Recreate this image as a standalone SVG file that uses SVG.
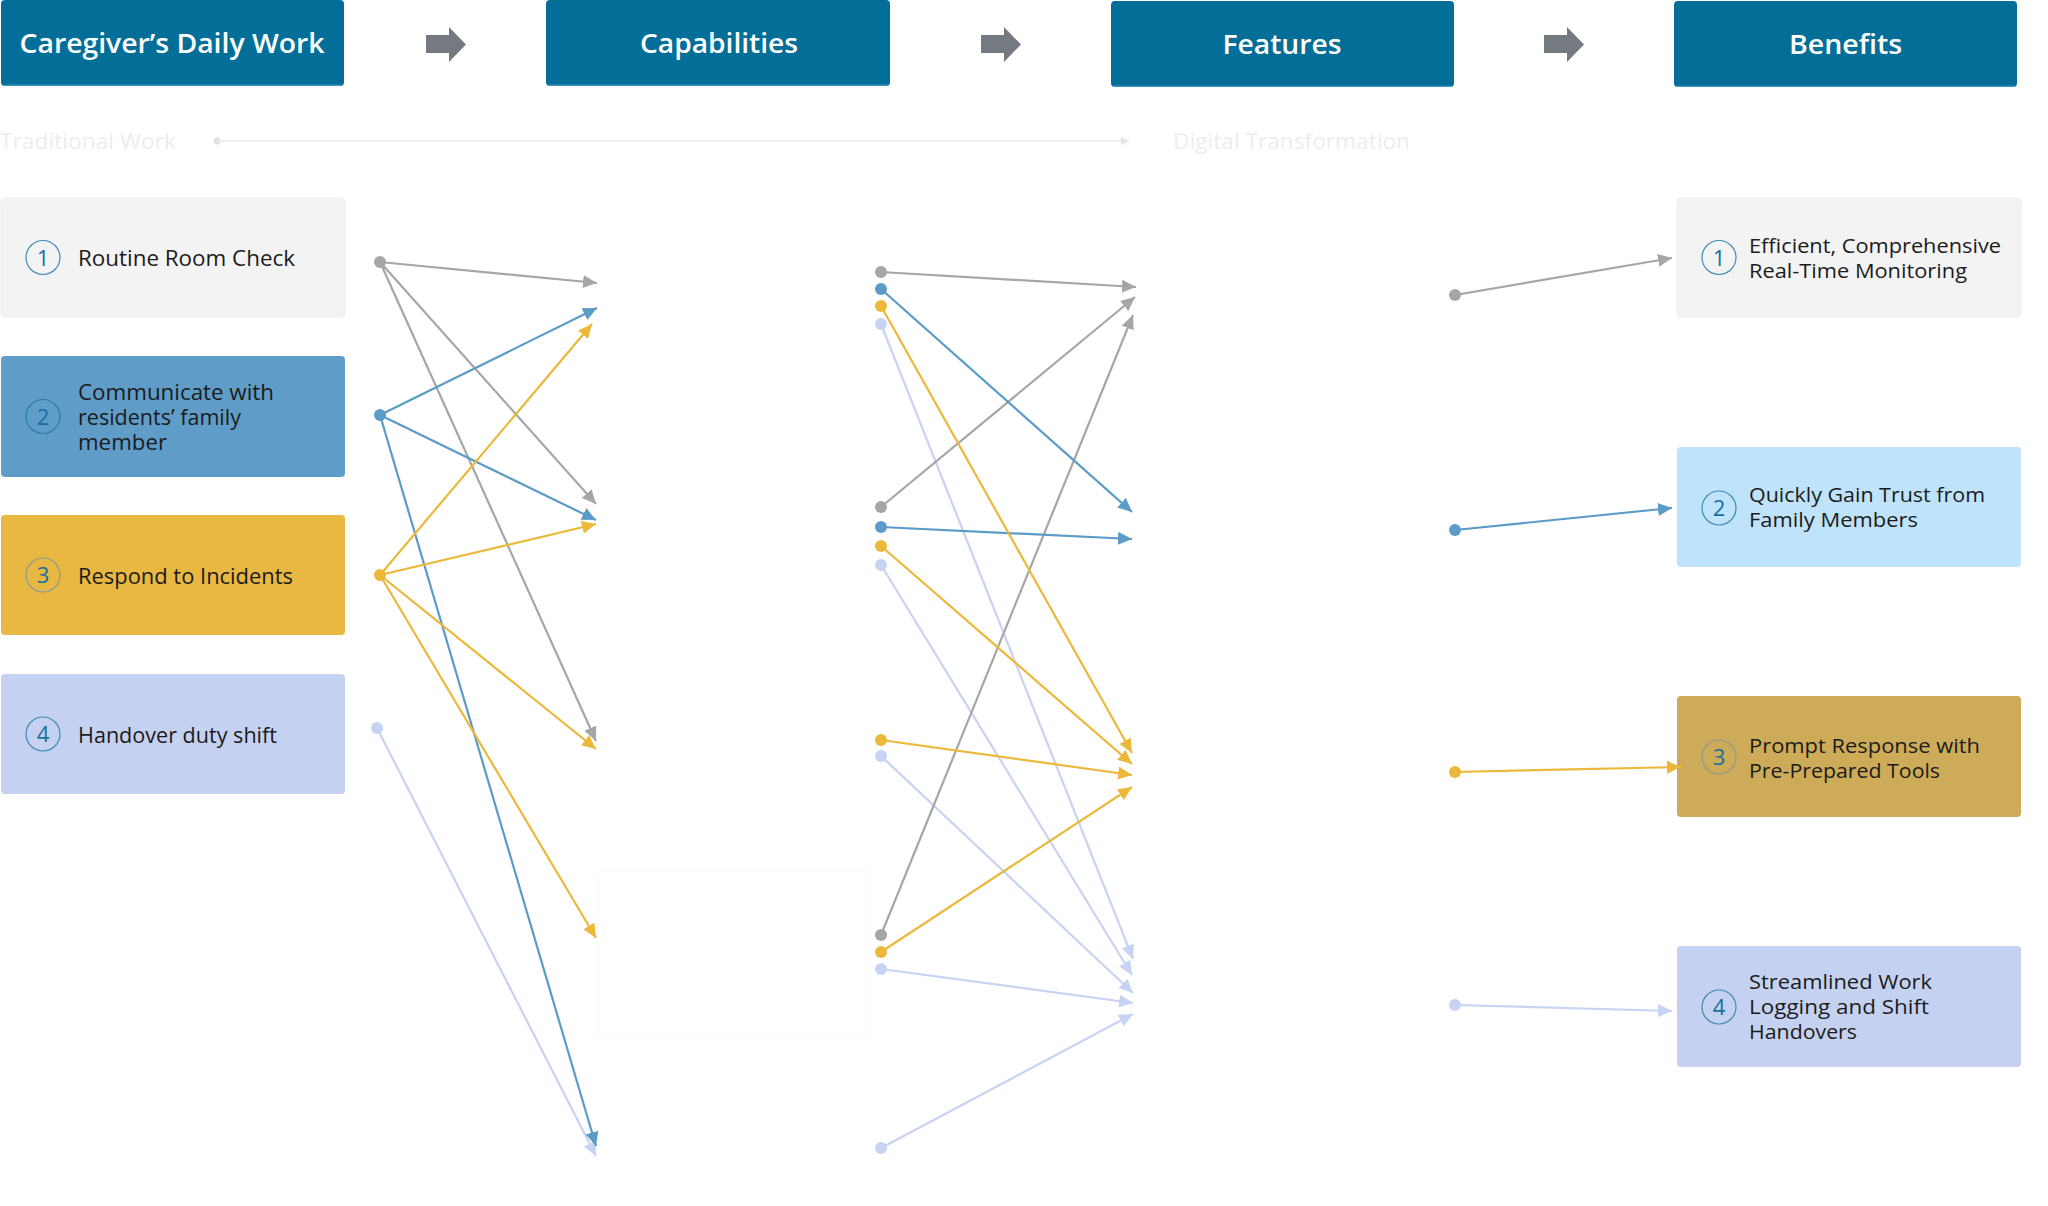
<svg xmlns="http://www.w3.org/2000/svg" width="2048" height="1206" viewBox="0 0 2048 1206">
<defs>
<style>
.hdr{fill:#036f99}
.hdrline{fill:#3a93c0}
.hdrtxt{font-family:"Open Sans","Liberation Sans",sans-serif;font-weight:600;font-size:27px;fill:#ffffff;text-anchor:middle}
.blk{fill:#747a80}
.txt{font-family:"Open Sans","Liberation Sans",sans-serif;font-size:21px;fill:#1b1b1b}
.btxt{font-family:"Open Sans","Liberation Sans",sans-serif;font-size:19.5px;fill:#1b1b1b}
.num{font-family:"Open Sans","Liberation Sans",sans-serif;font-weight:400;font-size:22px;fill:#17709f;text-anchor:middle}
.ring{fill:none;stroke:#3f8bb5;stroke-width:1.2}
.faint{font-family:"Open Sans","Liberation Sans",sans-serif;font-size:21px;fill:#ededed}
.c-g{stroke:#a6a6a6;stroke-width:2.2;fill:none;marker-end:url(#ah-g)}
.c-b{stroke:#5b9bc8;stroke-width:2.2;fill:none;marker-end:url(#ah-b)}
.c-y{stroke:#ecb83a;stroke-width:2.2;fill:none;marker-end:url(#ah-y)}
.c-l{stroke:#c6d3f3;stroke-width:2.2;fill:none;marker-end:url(#ah-l)}
.d-g{fill:#a6a6a6}.d-b{fill:#5b9bc8}.d-y{fill:#ecb83a}.d-l{fill:#c6d3f3}
</style>
<marker id="ah-g" markerUnits="userSpaceOnUse" markerWidth="15" markerHeight="13" refX="14" refY="6.5" orient="auto"><path d="M0,0 L14,6.5 L0,13 z" fill="#a6a6a6"/></marker>
<marker id="ah-b" markerUnits="userSpaceOnUse" markerWidth="15" markerHeight="13" refX="14" refY="6.5" orient="auto"><path d="M0,0 L14,6.5 L0,13 z" fill="#5b9bc8"/></marker>
<marker id="ah-y" markerUnits="userSpaceOnUse" markerWidth="15" markerHeight="13" refX="14" refY="6.5" orient="auto"><path d="M0,0 L14,6.5 L0,13 z" fill="#ecb83a"/></marker>
<marker id="ah-l" markerUnits="userSpaceOnUse" markerWidth="15" markerHeight="13" refX="14" refY="6.5" orient="auto"><path d="M0,0 L14,6.5 L0,13 z" fill="#c6d3f3"/></marker>
<marker id="ah-f" markerUnits="userSpaceOnUse" markerWidth="9" markerHeight="8" refX="8" refY="4" orient="auto"><path d="M0,0 L8,4 L0,8 z" fill="#e6e6e6"/></marker>
</defs>
<rect width="2048" height="1206" fill="#ffffff"/>

<g id="header-work"><rect class="hdr" x="1" y="0" width="343" height="86" rx="4"/><rect class="hdrline" x="3" y="84.5" width="339" height="1.5"/><text class="hdrtxt" x="172" y="53" textLength="305" lengthAdjust="spacingAndGlyphs">Caregiver’s Daily Work</text></g>
<g id="header-capabilities"><rect class="hdr" x="546" y="0" width="344" height="86" rx="4"/><rect class="hdrline" x="548" y="84.5" width="340" height="1.5"/><text class="hdrtxt" x="719" y="53" textLength="158" lengthAdjust="spacingAndGlyphs">Capabilities</text></g>
<g id="header-features"><rect class="hdr" x="1111" y="1" width="343" height="86" rx="4"/><rect class="hdrline" x="1113" y="85.5" width="339" height="1.5"/><text class="hdrtxt" x="1282" y="54" textLength="119" lengthAdjust="spacingAndGlyphs">Features</text></g>
<g id="header-benefits"><rect class="hdr" x="1674" y="1" width="343" height="86" rx="4"/><rect class="hdrline" x="1676" y="85.5" width="339" height="1.5"/><text class="hdrtxt" x="1845.5" y="54" textLength="113" lengthAdjust="spacingAndGlyphs">Benefits</text></g>

<g id="flow-arrows">
<polygon class="blk" points="426,35 449,35 449,27 466,44.5 449,62 449,53 426,53"/>
<polygon class="blk" points="981,35 1004,35 1004,27 1021,44.5 1004,62 1004,53 981,53"/>
<polygon class="blk" points="1544,35 1567,35 1567,27 1584,44.5 1567,62 1567,53 1544,53"/>
</g>

<g id="timeline">
<text class="faint" x="0" y="148.5" textLength="176" lengthAdjust="spacingAndGlyphs">Traditional Work</text>
<circle cx="217" cy="141" r="3.5" fill="#e0e0e0"/>
<line x1="217" y1="141" x2="1129" y2="141" stroke="#efefef" stroke-width="2" marker-end="url(#ah-f)"/>
<text class="faint" x="1173" y="148.5" textLength="237" lengthAdjust="spacingAndGlyphs">Digital Transformation</text>
</g>

<g id="work-1"><rect x="1" y="198" width="344" height="119" rx="4" fill="#f3f3f3" stroke="#ededed"/><circle class="ring" cx="43" cy="257.5" r="17"/><text class="num" x="43" y="265.5">1</text><text class="txt" x="78" y="266" textLength="217" lengthAdjust="spacingAndGlyphs">Routine Room Check</text></g>
<g id="work-2"><rect x="1" y="356" width="344" height="121" rx="4" fill="#5f9dc8"/><circle class="ring" cx="43" cy="416.5" r="17" style="stroke:#2f7aa6"/><text class="num" x="43" y="424.5">2</text><text class="txt" x="78" y="400" textLength="196" lengthAdjust="spacingAndGlyphs">Communicate with</text><text class="txt" x="78" y="425" textLength="163" lengthAdjust="spacingAndGlyphs">residents’ family</text><text class="txt" x="78" y="450" textLength="89" lengthAdjust="spacingAndGlyphs">member</text></g>
<g id="work-3"><rect x="1" y="515" width="344" height="120" rx="4" fill="#e8b843"/><circle class="ring" cx="43" cy="575" r="17" style="stroke:#8c9a96"/><text class="num" x="43" y="583">3</text><text class="txt" x="78" y="583.5" textLength="215" lengthAdjust="spacingAndGlyphs">Respond to Incidents</text></g>
<g id="work-4"><rect x="1" y="674" width="344" height="120" rx="4" fill="#c5d1f0"/><circle class="ring" cx="43" cy="734" r="17"/><text class="num" x="43" y="742">4</text><text class="txt" x="78" y="742.5" textLength="199" lengthAdjust="spacingAndGlyphs">Handover duty shift</text></g>

<g id="capability-placeholder"><rect x="598" y="871" width="272" height="168" rx="4" fill="none" stroke="#f3f3f3" stroke-dasharray="2 2"/></g>

<g id="benefit-1"><rect x="1677" y="198" width="344" height="119" rx="4" fill="#f3f3f3" stroke="#ededed"/><circle class="ring" cx="1719" cy="257.5" r="17"/><text class="num" x="1719" y="265.5">1</text><text class="btxt" x="1749" y="252.5" textLength="252" lengthAdjust="spacingAndGlyphs">Efficient, Comprehensive</text><text class="btxt" x="1749" y="277.5" textLength="218" lengthAdjust="spacingAndGlyphs">Real-Time Monitoring</text></g>
<g id="benefit-2"><rect x="1677" y="447" width="344" height="120" rx="4" fill="#bee3fb"/><circle class="ring" cx="1719" cy="508" r="17"/><text class="num" x="1719" y="516">2</text><text class="btxt" x="1749" y="502" textLength="236" lengthAdjust="spacingAndGlyphs">Quickly Gain Trust from</text><text class="btxt" x="1749" y="527" textLength="169" lengthAdjust="spacingAndGlyphs">Family Members</text></g>
<g id="benefit-3"><rect x="1677" y="696" width="344" height="121" rx="4" fill="#cdab58"/><circle class="ring" cx="1719" cy="757" r="17" style="stroke:#8c9a96"/><text class="num" x="1719" y="765">3</text><text class="btxt" x="1749" y="752.5" textLength="231" lengthAdjust="spacingAndGlyphs">Prompt Response with</text><text class="btxt" x="1749" y="777.5" textLength="191" lengthAdjust="spacingAndGlyphs">Pre-Prepared Tools</text></g>
<g id="benefit-4"><rect x="1677" y="946" width="344" height="121" rx="4" fill="#c5d1f0"/><circle class="ring" cx="1719" cy="1007" r="17"/><text class="num" x="1719" y="1015">4</text><text class="btxt" x="1749" y="989" textLength="183" lengthAdjust="spacingAndGlyphs">Streamlined Work</text><text class="btxt" x="1749" y="1014" textLength="180" lengthAdjust="spacingAndGlyphs">Logging and Shift</text><text class="btxt" x="1749" y="1039" textLength="108" lengthAdjust="spacingAndGlyphs">Handovers</text></g>

<g id="connectors">
<line class="c-l" x1="377" y1="728" x2="596" y2="1156"/>
<line class="c-g" x1="380" y1="262" x2="597" y2="283"/>
<line class="c-g" x1="380" y1="262" x2="596" y2="504"/>
<line class="c-g" x1="380" y1="262" x2="596" y2="741"/>
<line class="c-b" x1="380" y1="415" x2="597" y2="308"/>
<line class="c-b" x1="380" y1="415" x2="596" y2="520"/>
<line class="c-b" x1="380" y1="415" x2="596" y2="1146"/>
<line class="c-y" x1="380" y1="575" x2="592" y2="324"/>
<line class="c-y" x1="380" y1="575" x2="596" y2="524"/>
<line class="c-y" x1="380" y1="575" x2="596" y2="749"/>
<line class="c-y" x1="380" y1="575" x2="596" y2="938"/>

<line class="c-l" x1="881" y1="324" x2="1133" y2="959"/>
<line class="c-l" x1="881" y1="565" x2="1132" y2="975"/>
<line class="c-l" x1="881" y1="756" x2="1133" y2="993"/>
<line class="c-l" x1="881" y1="969" x2="1133" y2="1003"/>
<line class="c-l" x1="881" y1="1148" x2="1133" y2="1014"/>
<line class="c-g" x1="881" y1="272" x2="1136" y2="287"/>
<line class="c-g" x1="881" y1="507" x2="1135" y2="297"/>
<line class="c-g" x1="881" y1="935" x2="1133" y2="315"/>
<line class="c-b" x1="881" y1="289" x2="1132" y2="512"/>
<line class="c-b" x1="881" y1="527" x2="1132" y2="539"/>
<line class="c-y" x1="881" y1="306" x2="1132" y2="753"/>
<line class="c-y" x1="881" y1="546" x2="1132" y2="764"/>
<line class="c-y" x1="881" y1="740" x2="1132" y2="775"/>
<line class="c-y" x1="881" y1="952" x2="1132" y2="787"/>

<line class="c-g" x1="1455" y1="295" x2="1672" y2="258"/>
<line class="c-b" x1="1455" y1="530" x2="1672" y2="508"/>
<line class="c-y" x1="1455" y1="772" x2="1681" y2="767"/>
<line class="c-l" x1="1455" y1="1005" x2="1672" y2="1011"/>

<circle class="d-g" cx="380" cy="262" r="6"/>
<circle class="d-b" cx="380" cy="415" r="6"/>
<circle class="d-y" cx="380" cy="575" r="6"/>
<circle class="d-l" cx="377" cy="728" r="6"/>
<circle class="d-g" cx="881" cy="272" r="6"/>
<circle class="d-b" cx="881" cy="289" r="6"/>
<circle class="d-y" cx="881" cy="306" r="6"/>
<circle class="d-l" cx="881" cy="324" r="6"/>
<circle class="d-g" cx="881" cy="507" r="6"/>
<circle class="d-b" cx="881" cy="527" r="6"/>
<circle class="d-y" cx="881" cy="546" r="6"/>
<circle class="d-l" cx="881" cy="565" r="6"/>
<circle class="d-y" cx="881" cy="740" r="6"/>
<circle class="d-l" cx="881" cy="756" r="6"/>
<circle class="d-g" cx="881" cy="935" r="6"/>
<circle class="d-y" cx="881" cy="952" r="6"/>
<circle class="d-l" cx="881" cy="969" r="6"/>
<circle class="d-l" cx="881" cy="1148" r="6"/>
<circle class="d-g" cx="1455" cy="295" r="6"/>
<circle class="d-b" cx="1455" cy="530" r="6"/>
<circle class="d-y" cx="1455" cy="772" r="6"/>
<circle class="d-l" cx="1455" cy="1005" r="6"/>
</g>
</svg>
